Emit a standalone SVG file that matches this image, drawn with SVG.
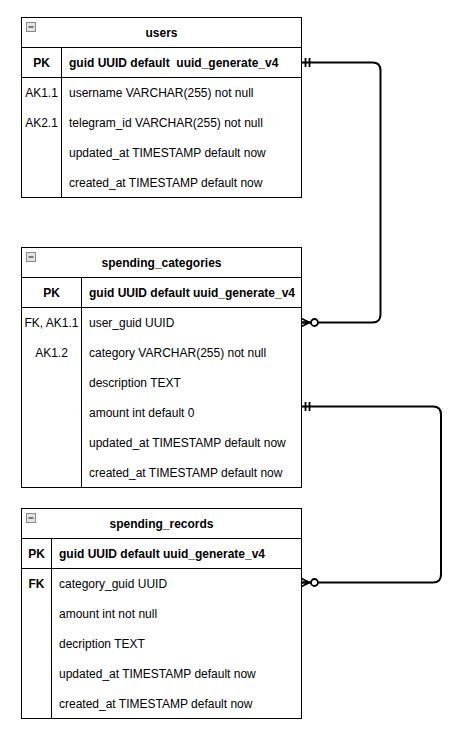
<svg xmlns="http://www.w3.org/2000/svg" width="469" height="729" viewBox="0 0 469 729">
<style>
  .box { fill: #ffffff; stroke: #000000; stroke-width: 1; }
  .ln { stroke: #000000; stroke-width: 1; fill: none; }
  text { font-family: "Liberation Sans", Arial, sans-serif; font-size: 12px; fill: #000000; }
  .title { font-weight: bold; text-anchor: middle; }
  .b { font-weight: bold; }
  .c { text-anchor: middle; }
  .pre { white-space: pre; }
  .fold { fill: #e4e4e4; stroke: #8a8a8a; stroke-width: 1; }
  .minus { stroke: #333333; stroke-width: 1.2; }
  .edge { fill: none; stroke: #000000; stroke-width: 2; }
  .mk { fill: #ffffff; stroke: #000000; stroke-width: 1.8; }
</style>
<defs>
  <g id="foldIcon">
    <rect class="fold" x="0" y="0" width="9" height="9"/>
    <line class="minus" x1="2" y1="4.5" x2="7" y2="4.5"/>
  </g>
  <g id="mandOne">
    <line class="mk" x1="4" y1="-4.5" x2="4" y2="4.5"/>
    <line class="mk" x1="8" y1="-4.5" x2="8" y2="4.5"/>
  </g>
  <g id="zeroToMany">
    <path class="mk" d="M0,-4 L8,0 L0,4 M0,0 H9" style="fill:none"/>
    <circle class="mk" cx="13" cy="0" r="3.5"/>
  </g>
</defs>

<g id="connectors">
  <path class="edge" d="M301.5,62.5 H372.5 Q380.5,62.5 380.5,70.5 V314.5 Q380.5,322.5 372.5,322.5 H301.5"/>
  <use href="#mandOne" transform="translate(301.5,62.5)"/>
  <use href="#zeroToMany" transform="translate(301.5,322.5)"/>
  <path class="edge" d="M301.5,406.5 H433 Q441,406.5 441,414.5 V574.5 Q441,582.5 433,582.5 H301.5"/>
  <use href="#mandOne" transform="translate(301.5,406.5)"/>
  <use href="#zeroToMany" transform="translate(301.5,582.5)"/>
</g>

<g id="users">
  <rect class="box" x="21.5" y="17.5" width="280" height="180"/>
  <line class="ln" x1="21.5" y1="47.5" x2="301.5" y2="47.5"/>
  <line class="ln" x1="21.5" y1="77.5" x2="301.5" y2="77.5"/>
  <line class="ln" x1="61.5" y1="47.5" x2="61.5" y2="197.5"/>
  <use href="#foldIcon" transform="translate(26.5,22.5)"/>
  <text class="title" x="161.5" y="36.5">users</text>
  <text class="b c" x="41.5" y="66.5">PK</text>
  <text class="b pre" x="69" y="66.5">guid UUID default  uuid_generate_v4</text>
  <text class="c" x="41.5" y="96.5">AK1.1</text>
  <text x="69" y="96.5">username VARCHAR(255) not null</text>
  <text class="c" x="41.5" y="126.5">AK2.1</text>
  <text x="69" y="126.5">telegram_id VARCHAR(255) not null</text>
  <text x="69" y="156.5">updated_at TIMESTAMP default now</text>
  <text x="69" y="186.5">created_at TIMESTAMP default now</text>
</g>

<g id="spending_categories">
  <rect class="box" x="21.5" y="247.5" width="280" height="240"/>
  <line class="ln" x1="21.5" y1="277.5" x2="301.5" y2="277.5"/>
  <line class="ln" x1="21.5" y1="307.5" x2="301.5" y2="307.5"/>
  <line class="ln" x1="81.5" y1="277.5" x2="81.5" y2="487.5"/>
  <use href="#foldIcon" transform="translate(26.5,252.5)"/>
  <text class="title" x="161.5" y="266.5">spending_categories</text>
  <text class="b c" x="51.5" y="296.5">PK</text>
  <text class="b" x="89" y="296.5">guid UUID default uuid_generate_v4</text>
  <text class="c" x="51.5" y="326.5">FK, AK1.1</text>
  <text x="89" y="326.5">user_guid UUID</text>
  <text class="c" x="51.5" y="356.5">AK1.2</text>
  <text x="89" y="356.5">category VARCHAR(255) not null</text>
  <text x="89" y="386.5">description TEXT</text>
  <text x="89" y="416.5">amount int default 0</text>
  <text x="89" y="446.5">updated_at TIMESTAMP default now</text>
  <text x="89" y="476.5">created_at TIMESTAMP default now</text>
</g>

<g id="spending_records">
  <rect class="box" x="21.5" y="508.5" width="280" height="210"/>
  <line class="ln" x1="21.5" y1="538.5" x2="301.5" y2="538.5"/>
  <line class="ln" x1="21.5" y1="568.5" x2="301.5" y2="568.5"/>
  <line class="ln" x1="51.5" y1="538.5" x2="51.5" y2="718.5"/>
  <use href="#foldIcon" transform="translate(26.5,513.5)"/>
  <text class="title" x="161.5" y="527.5">spending_records</text>
  <text class="b c" x="36.5" y="557.5">PK</text>
  <text class="b" x="59" y="557.5">guid UUID default uuid_generate_v4</text>
  <text class="b c" x="36.5" y="587.5">FK</text>
  <text x="59" y="587.5">category_guid UUID</text>
  <text x="59" y="617.5">amount int not null</text>
  <text x="59" y="647.5">decription TEXT</text>
  <text x="59" y="677.5">updated_at TIMESTAMP default now</text>
  <text x="59" y="707.5">created_at TIMESTAMP default now</text>
</g>
</svg>
